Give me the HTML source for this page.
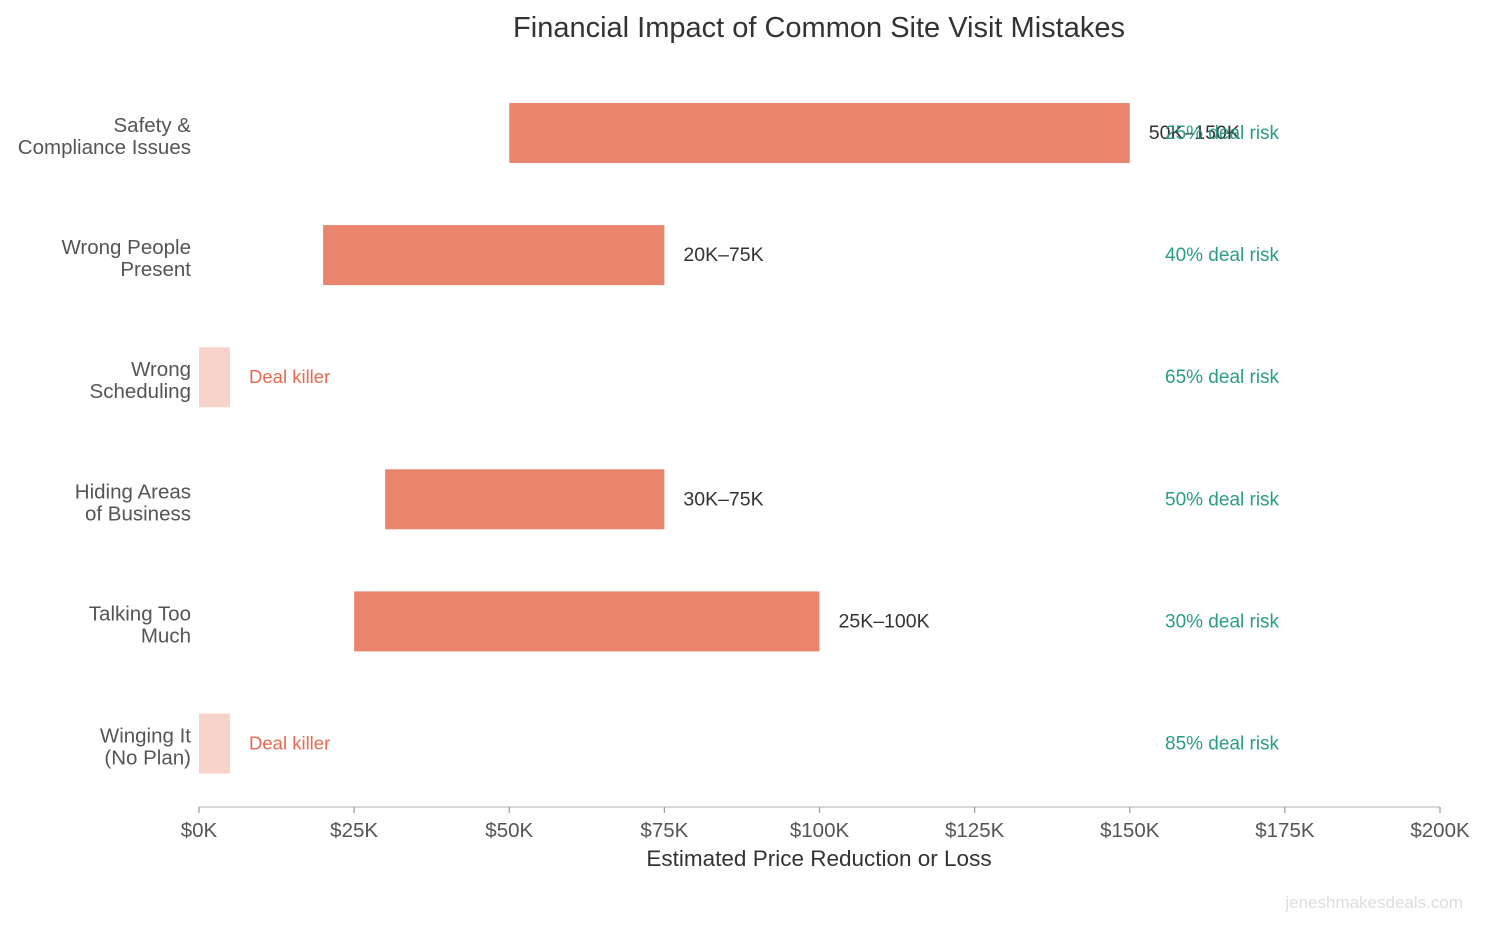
<!DOCTYPE html>
<html><head><meta charset="utf-8"><style>
body{margin:0;background:#fff;}
svg{display:block;font-family:"Liberation Sans","DejaVu Sans",sans-serif;}
</style></head><body>
<svg id="chart" width="1485" height="925"></svg>
<script>
const categories=["Safety &\nCompliance Issues","Wrong People\nPresent","Wrong\nScheduling","Hiding Areas\nof Business","Talking Too\nMuch","Winging It\n(No Plan)"];
const lowValues=[50,20,0,30,25,0];
const highValues=[150,75,5,75,100,5];
const rangeLabels=["50K–150K","20K–75K","Deal killer","30K–75K","25K–100K","Deal killer"];
const dealKiller=[false,false,true,false,false,true];
const riskValues=[25,40,65,50,30,85];
const tickValues=[0,25,50,75,100,125,150,175,200];
const tickLabels=["$0K","$25K","$50K","$75K","$100K","$125K","$150K","$175K","$200K"];

const NS="http://www.w3.org/2000/svg";
const svg=document.getElementById('chart');
function x(v){return 199+v*(1440-199)/200;}
function y(i){return 133+i*122.1;}
function mk(t,a,txt){const e=document.createElementNS(NS,t);for(const k in a)e.setAttribute(k,a[k]);if(txt!==undefined)e.textContent=txt;svg.appendChild(e);return e;}

let e=mk('text',{x:819,y:37,'text-anchor':'middle','font-size':29,fill:'#333'},'Financial Impact of Common Site Visit Mistakes');



e=mk('line',{x1:199,x2:1440,y1:807,y2:807,stroke:'#ccc','stroke-width':1.5});



tickValues.forEach((v,i)=>{
  let t=mk('line',{x1:x(v),x2:x(v),y1:807,y2:813,stroke:'#999','stroke-width':1.2});
  
  
  let l=mk('text',{x:x(v),y:837,'text-anchor':'middle','font-size':20.5,fill:'#555'},tickLabels[i]);
  
  
});
e=mk('text',{x:819,y:866,'text-anchor':'middle','font-size':22.5,fill:'#333'},'Estimated Price Reduction or Loss');



categories.forEach((c,i)=>{
  const cy=y(i);
  const lines=c.split('\n');
  lines.forEach((ln,j)=>{
    let t=mk('text',{x:191,y:cy-1+j*22,'text-anchor':'end','font-size':20.5,fill:'#555'},ln);
    
    
  });
  const dk=dealKiller[i];
  let b=mk('rect',{x:x(lowValues[i]),y:cy-30,width:x(highValues[i])-x(lowValues[i]),height:60,fill:dk?'#f8d3ca':'#e9856c'});
  
  
  let r=mk('text',{x:x(highValues[i])+19,y:cy+6,'font-size':dk?18.5:19.5,fill:dk?'#e8694d':'#333'},rangeLabels[i]);
  
  
  let k=mk('text',{x:1165,y:cy+6,'font-size':19,fill:'#2a9d85'},riskValues[i]+'% deal risk');
  
  
});
e=mk('text',{x:1463,y:908,'text-anchor':'end','font-size':17,fill:'#ddd'},'jeneshmakesdeals.com');


</script>
</body></html>
